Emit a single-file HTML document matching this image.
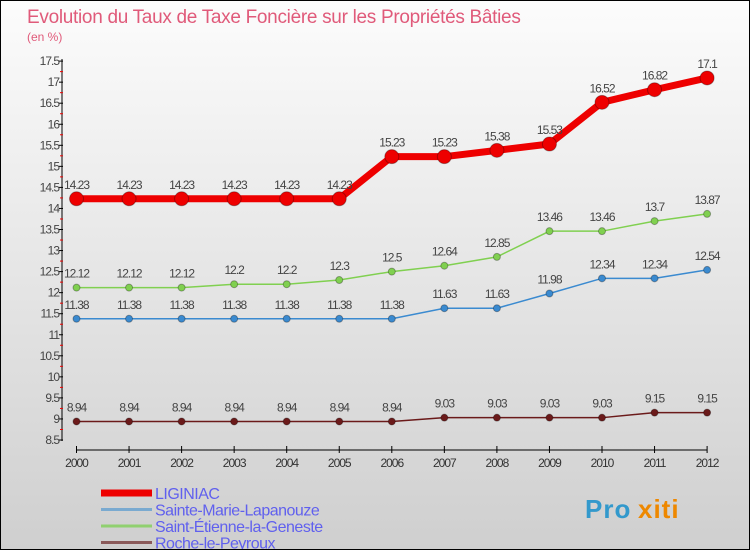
<!DOCTYPE html>
<html><head><meta charset="utf-8"><style>
body{margin:0}
#c{width:750px;height:550px;position:relative;overflow:hidden;font-family:"Liberation Sans",sans-serif;background:linear-gradient(#fcfcfc,#cfcfcf);box-sizing:border-box;border:1px solid #000}
</style></head><body>
<div id="c">
<svg width="750" height="550" id="s"></svg>
</div>
<script>
const years=[2000,2001,2002,2003,2004,2005,2006,2007,2008,2009,2010,2011,2012];
const liginiac=[14.23,14.23,14.23,14.23,14.23,14.23,15.23,15.23,15.38,15.53,16.52,16.82,17.1];
const sainteMarie=[11.38,11.38,11.38,11.38,11.38,11.38,11.38,11.63,11.63,11.98,12.34,12.34,12.54];
const saintEtienne=[12.12,12.12,12.12,12.2,12.2,12.3,12.5,12.64,12.85,13.46,13.46,13.7,13.87];
const roche=[8.94,8.94,8.94,8.94,8.94,8.94,8.94,9.03,9.03,9.03,9.03,9.15,9.15];
const yTicks=[8.5,9,9.5,10,10.5,11,11.5,12,12.5,13,13.5,14,14.5,15,15.5,16,16.5,17,17.5];
const ns="http://www.w3.org/2000/svg",s=document.getElementById('s');
const X=i=>75.5+i*52.55, Y=v=>439-(v-8.5)*42.1;
function el(t,a,txt){const e=document.createElementNS(ns,t);for(const k in a)e.setAttribute(k,a[k]);if(txt!==undefined)e.textContent=txt;s.appendChild(e);return e;}
let e;
e=el('text',{x:26,y:22,'font-size':19,fill:'#e05a7a','letter-spacing':'-0.3'},'Evolution du Taux de Taxe Foncière sur les Propriétés Bâties');

e=el('text',{x:26,y:40,'font-size':12,fill:'#e05a7a'},'(en %)');

e=el('line',{x1:61,y1:58,x2:61,y2:440,stroke:'#000'});

e=el('line',{x1:75,y1:449,x2:706,y2:449,stroke:'#000'});

yTicks.forEach((v,i)=>{
 e=el('line',{x1:58,y1:Y(v),x2:62,y2:Y(v),stroke:'#000'});
 
 if(i<yTicks.length-1){e=el('line',{x1:59,y1:Y(v+0.25),x2:62,y2:Y(v+0.25),stroke:'#e00'});
 }
 e=el('text',{x:58,y:Y(v)+4,'font-size':12,fill:'#444','text-anchor':'end','letter-spacing':'-1'},String(v));
 
});
years.forEach((y,i)=>{
 e=el('line',{x1:X(i),y1:445,x2:X(i),y2:452,stroke:'#000'});
 
 e=el('text',{x:X(i),y:466,'font-size':12,fill:'#333','text-anchor':'middle','letter-spacing':'-1'},String(y));
 
});
function series(d,col,w,r,name){
 e=el('polyline',{points:d.map((v,i)=>X(i)+','+Y(v)).join(' '),fill:'none',stroke:col,'stroke-width':w});
 
 d.forEach((v,i)=>{
  e=el('circle',{cx:X(i),cy:Y(v),r:r,fill:col,stroke:'rgba(0,0,0,0.3)'});
  
  e=el('text',{x:X(i),y:Y(v)-10,'font-size':12,fill:'#444','text-anchor':'middle','letter-spacing':'-1'},String(v));
  
 });
}
series(roche,'#6b1a1a',1.5,3.5,'roche');
series(sainteMarie,'#3a8ad0',1.5,3.5,'sainte-marie');
series(saintEtienne,'#80d050',1.5,3.5,'saint-etienne');
series(liginiac,'#ee0000',7,7,'liginiac');
const leg=[['LIGINIAC','#ee0000',7],['Sainte-Marie-Lapanouze','#7aaad0',3],['Saint-Étienne-la-Geneste','#90d070',3],['Roche-le-Peyroux','#8a5a5a',3]];
leg.forEach((l,i)=>{
 const y=492+i*16.5;
 e=el('line',{x1:100,y1:y,x2:151,y2:y,stroke:l[1],'stroke-width':l[2]});
 
 e=el('text',{x:154,y:y+6,'font-size':16,fill:'#6060ee','letter-spacing':'-0.5'},l[0]);
 
});
e=el('text',{x:584,y:517,'font-size':26,'font-weight':'bold',fill:'#3399cc','letter-spacing':'1'},'Pro');

e=el('text',{x:637,y:517,'font-size':26,'font-weight':'bold',fill:'#ee8800','letter-spacing':'1'},'xiti');

</script>
</body></html>
